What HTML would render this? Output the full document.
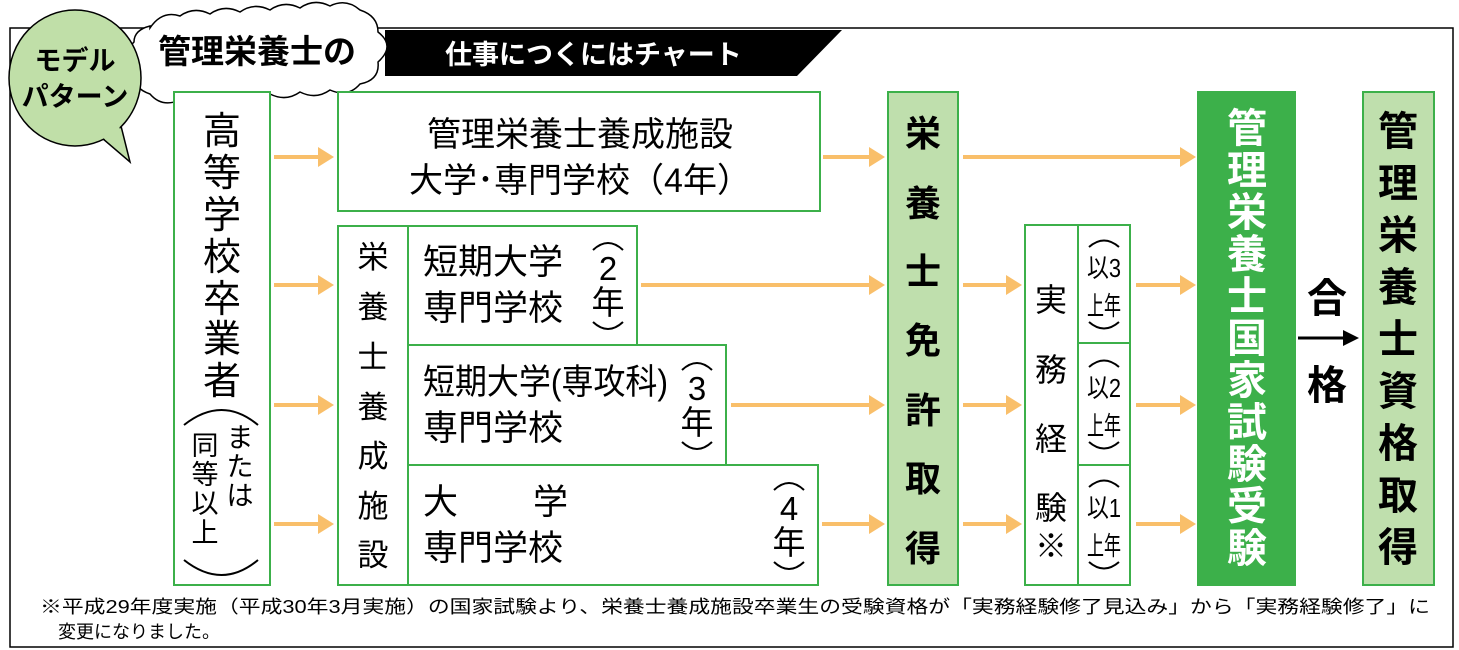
<!DOCTYPE html>
<html><head><meta charset="utf-8"><style>
html,body{margin:0;padding:0;background:#fff;}
svg{display:block;}
text{font-family:"Liberation Sans","Noto Sans CJK JP",sans-serif;}
</style></head><body>
<svg width="1459" height="650" viewBox="0 0 1459 650" xmlns="http://www.w3.org/2000/svg">
<defs>
<marker id="ah" markerWidth="4" markerHeight="5" refX="0" refY="2.5" orient="auto" markerUnits="strokeWidth">
<path d="M0,0 L4,2.5 L0,5 Z" fill="#f9bf6a"/></marker>
</defs>
<rect x="10" y="28" width="1443" height="619" fill="#fff" stroke="#000" stroke-width="1.5"/>

<!-- banner -->
<path d="M385,30 L842,30 L797,76 L385,76 Z" fill="#000"/>
<text x="445" y="64" font-size="27" font-weight="bold" fill="#fff">仕事につくにはチャート</text>
<!-- cloud -->
<path d="M150,28 q12,-18 30,-12 q14,-10 30,-2 q14,-10 30,-2 q14,-10 30,-2 q14,-10 30,-2 q14,-10 30,-2 q16,-8 30,4 q18,6 18,22 q18,14 0,30 q2,18 -18,22 q-12,14 -30,6 q-14,10 -30,2 q-14,10 -30,2 q-14,10 -30,2 q-14,10 -30,2 q-14,10 -30,2 q-18,8 -30,-6 q-18,-6 -16,-22 q-16,-14 0,-30 q0,-12 16,-16 Z" fill="#fff" stroke="#000" stroke-width="1.5"/>
<text x="158" y="63" font-size="33" font-weight="bold" fill="#000">管理栄養士の</text>

<!-- bubble -->
<path d="M102,138 L130,162 L120,122 Z" fill="#c0dfa8" stroke="#000" stroke-width="1.5"/>
<ellipse cx="75" cy="78" rx="66" ry="68" fill="#c0dfa8" stroke="#000" stroke-width="1.5"/>
<path d="M101,136 L128,159 L118,122" fill="#c0dfa8" stroke="none"/>
<text x="75" y="70" font-size="27" font-weight="bold" text-anchor="middle">モデル</text>
<text x="75" y="106" font-size="27" font-weight="bold" text-anchor="middle">パターン</text>

<g fill="#fff" stroke="#3cb04a" stroke-width="2">
<rect x="174" y="92" width="96" height="493"/>
<rect x="338" y="92" width="482" height="119"/>
<rect x="338" y="226" width="70" height="359"/>
<rect x="408" y="226" width="229" height="119"/>
<rect x="408" y="345" width="318" height="120"/>
<rect x="408" y="465" width="410" height="120"/>
<rect x="888" y="92" width="70" height="493" fill="#bfdfad"/>
<rect x="1025" y="225" width="53" height="360"/>
<rect x="1078" y="225" width="52" height="118"/>
<rect x="1078" y="343" width="52" height="122"/>
<rect x="1078" y="465" width="52" height="120"/>
<rect x="1198" y="92" width="97" height="493" fill="#3cb04a"/>
<rect x="1363" y="92" width="71" height="493" fill="#bfdfad"/>
</g>

<g stroke="#f9bf6a" stroke-width="4" marker-end="url(#ah)">
<line x1="274" y1="157" x2="318" y2="157"/>
<line x1="274" y1="285" x2="318" y2="285"/>
<line x1="274" y1="405" x2="318" y2="405"/>
<line x1="274" y1="524" x2="318" y2="524"/>
<line x1="823" y1="157" x2="869" y2="157"/>
<line x1="641" y1="285" x2="869" y2="285"/>
<line x1="731" y1="405" x2="869" y2="405"/>
<line x1="822" y1="524" x2="869" y2="524"/>
<line x1="963" y1="157" x2="1180" y2="157"/>
<line x1="963" y1="285" x2="1006" y2="285"/>
<line x1="963" y1="405" x2="1006" y2="405"/>
<line x1="963" y1="524" x2="1006" y2="524"/>
<line x1="1136" y1="285" x2="1180" y2="285"/>
<line x1="1136" y1="405" x2="1180" y2="405"/>
<line x1="1136" y1="524" x2="1180" y2="524"/>
</g>

<g font-size="38" text-anchor="middle">
<text x="222" y="144">高</text><text x="222" y="186">等</text><text x="222" y="228">学</text>
<text x="222" y="270">校</text><text x="222" y="312">卒</text><text x="222" y="352">業</text><text x="222" y="394">者</text>
</g>
<path d="M184,425 Q222,395 258,425" fill="none" stroke="#000" stroke-width="2"/>
<path d="M184,560 Q222,590 258,560" fill="none" stroke="#000" stroke-width="2"/>
<g font-size="27" text-anchor="middle">
<text x="240" y="447">ま</text><text x="240" y="476">た</text><text x="240" y="505">は</text>
<text x="205" y="455">同</text><text x="205" y="484">等</text><text x="205" y="513">以</text><text x="205" y="542">上</text>
</g>

<text x="580" y="146" font-size="34" text-anchor="middle">管理栄養士養成施設</text>
<text x="580" y="192" font-size="34" text-anchor="middle">大学･専門学校（4年）</text>

<g font-size="31" text-anchor="middle">
<text x="373" y="268">栄</text><text x="373" y="318">養</text><text x="373" y="368">士</text>
<text x="373" y="418">養</text><text x="373" y="467">成</text><text x="373" y="517">施</text><text x="373" y="566">設</text>
</g>

<g font-size="35">
<text x="423" y="274">短期大学</text><text x="423" y="320">専門学校</text>
<text x="423" y="394" textLength="245" lengthAdjust="spacingAndGlyphs">短期大学(専攻科)</text><text x="423" y="440">専門学校</text>
<text x="423" y="514">大</text><text x="533" y="514">学</text><text x="423" y="560">専門学校</text>
</g>
<g font-size="33" text-anchor="middle">
<text x="608" y="280">2</text><text x="608" y="314">年</text>
<text x="697" y="400">3</text><text x="697" y="434">年</text>
<text x="789" y="520">4</text><text x="789" y="554">年</text>
</g>
<g fill="none" stroke="#000" stroke-width="2">
<path d="M593,250 Q608,236 623,250"/><path d="M593,322 Q608,336 623,322"/>
<path d="M682,370 Q697,356 712,370"/><path d="M682,442 Q697,456 712,442"/>
<path d="M774,490 Q789,476 804,490"/><path d="M774,562 Q789,576 804,562"/>
</g>

<g font-size="36" font-weight="bold" text-anchor="middle">
<text x="923" y="146">栄</text><text x="923" y="216">養</text><text x="923" y="284">士</text>
<text x="923" y="353">免</text><text x="923" y="423">許</text><text x="923" y="491">取</text><text x="923" y="561">得</text>
</g>

<g font-size="32" text-anchor="middle">
<text x="1051" y="311">実</text><text x="1051" y="381">務</text><text x="1051" y="450">経</text>
<text x="1051" y="519">験</text><text x="1051" y="557">※</text>
</g>
<g font-size="26" text-anchor="middle">
<text x="1104" y="277" textLength="34" lengthAdjust="spacingAndGlyphs">以3</text>
<text x="1104" y="315" textLength="34" lengthAdjust="spacingAndGlyphs">上年</text>
<text x="1104" y="397" textLength="34" lengthAdjust="spacingAndGlyphs">以2</text>
<text x="1104" y="435" textLength="34" lengthAdjust="spacingAndGlyphs">上年</text>
<text x="1104" y="517" textLength="34" lengthAdjust="spacingAndGlyphs">以1</text>
<text x="1104" y="555" textLength="34" lengthAdjust="spacingAndGlyphs">上年</text>
</g>
<g fill="none" stroke="#000" stroke-width="2">
<path d="M1089,247 Q1104,234 1119,247"/><path d="M1089,322 Q1104,335 1119,322"/>
<path d="M1089,367 Q1104,354 1119,367"/><path d="M1089,442 Q1104,455 1119,442"/>
<path d="M1089,487 Q1104,474 1119,487"/><path d="M1089,562 Q1104,575 1119,562"/>
</g>

<g font-size="40" font-weight="bold" text-anchor="middle" fill="#fff">
<text x="1247" y="142">管</text><text x="1247" y="184">理</text><text x="1247" y="226">栄</text>
<text x="1247" y="268">養</text><text x="1247" y="310">士</text><text x="1247" y="352">国</text>
<text x="1247" y="394">家</text><text x="1247" y="436">試</text><text x="1247" y="478">験</text>
<text x="1247" y="520">受</text><text x="1247" y="562">験</text>
</g>

<text x="1327" y="312" font-size="40" font-weight="bold" text-anchor="middle">合</text>
<text x="1327" y="399" font-size="40" font-weight="bold" text-anchor="middle">格</text>
<line x1="1298" y1="338" x2="1345" y2="338" stroke="#000" stroke-width="3"/>
<path d="M1343,330 L1359,338 L1343,346 Z" fill="#000"/>

<g font-size="40" font-weight="bold" text-anchor="middle">
<text x="1398" y="145">管</text><text x="1398" y="197">理</text><text x="1398" y="249">栄</text>
<text x="1398" y="301">養</text><text x="1398" y="353">士</text><text x="1398" y="405">資</text>
<text x="1398" y="457">格</text><text x="1398" y="509">取</text><text x="1398" y="561">得</text>
</g>

<text x="40" y="613" font-size="18" textLength="1390" lengthAdjust="spacingAndGlyphs">※平成29年度実施（平成30年3月実施）の国家試験より、栄養士養成施設卒業生の受験資格が「実務経験修了見込み」から「実務経験修了」に</text>
<text x="58" y="638" font-size="18">変更になりました。</text>
</svg>
</body></html>
